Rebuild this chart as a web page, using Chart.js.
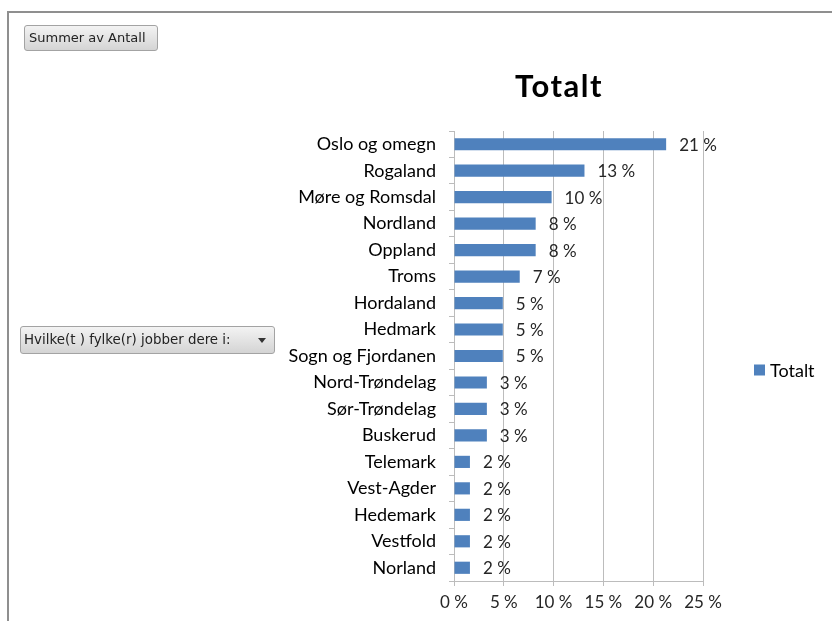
<!DOCTYPE html>
<html>
<head>
<meta charset="utf-8">
<script src="https://cdn.jsdelivr.net/npm/chart.js@4.4.0/dist/chart.umd.min.js"></script>
<style>
  html, body { margin: 0; padding: 0; background: #fff; }
  body { width: 832px; height: 621px; position: relative; overflow: hidden; }
  #frame {
    position: absolute; left: 7px; top: 11px; width: 900px; height: 700px;
    border-top: 2px solid #8f8f8f; border-left: 2px solid #8f8f8f;
    box-sizing: border-box;
  }
  #wrap { position: absolute; left: 0; top: 0; width: 832px; height: 621px; }
  .pivot-btn {
    position: absolute; box-sizing: border-box;
    border: 1px solid #a3a3a3; border-radius: 3px;
    background: linear-gradient(#f3f3f3, #d4d4d4);
    font-family: "DejaVu Sans", sans-serif; color: #222;
    white-space: nowrap;
  }
  #sumBtn { left: 24px; top: 25px; width: 134px; height: 26px; font-size: 13px; line-height: 24px; padding-left: 4px; }
  #rowBtn { left: 20px; top: 326px; width: 255px; height: 28px; font-size: 13.4px; line-height: 26px; padding-left: 3px; }
  #rowBtn .arrow {
    position: absolute; left: 237px; top: 11px; width: 0; height: 0;
    border-left: 4.5px solid transparent; border-right: 4.5px solid transparent;
    border-top: 5px solid #333;
  }
</style>
</head>
<body>
<div id="frame"></div>
<div id="wrap"><canvas id="chart" width="832" height="621"></canvas></div>
<div id="sumBtn" class="pivot-btn">Summer av Antall</div>
<div id="rowBtn" class="pivot-btn">Hvilke(t ) fylke(r) jobber dere i:<span class="arrow"></span></div>
<script>
// Share of respondents per county (percent)
const counties = [
  "Oslo og omegn", "Rogaland", "Møre og Romsdal", "Nordland", "Oppland",
  "Troms", "Hordaland", "Hedmark", "Sogn og Fjordanen", "Nord-Trøndelag",
  "Sør-Trøndelag", "Buskerud", "Telemark", "Vest-Agder", "Hedemark",
  "Vestfold", "Norland"
];
const totalt = [21.3, 13.1, 9.8, 8.2, 8.2, 6.6, 4.9, 4.9, 4.9, 3.3, 3.3, 3.3, 1.6, 1.6, 1.6, 1.6, 1.6];
const xTicks = [0, 5, 10, 15, 20, 25];
const seriesName = "Totalt";
const chartTitle = "Totalt";

const BAR = "#4F81BD";
const GRID = "#bcbcbc";
const FONT = "Lato, 'Open Sans', sans-serif";

// Title drawn centred above the plot
const titlePlugin = {
  id: "excelTitle",
  afterDraw(chart) {
    const ctx = chart.ctx;
    ctx.save();
    ctx.font = "bold 31px " + FONT;
    if ("letterSpacing" in ctx) ctx.letterSpacing = "1.5px";
    ctx.fillStyle = "#000";
    ctx.textAlign = "center";
    ctx.textBaseline = "alphabetic";
    ctx.fillText(chartTitle, 559, 97);
    ctx.restore();
  }
};

// Percent labels to the right of each bar
const valueLabels = {
  id: "valueLabels",
  afterDatasetsDraw(chart) {
    const ctx = chart.ctx;
    ctx.save();
    ctx.font = "17px " + FONT;
    ctx.fillStyle = "#262626";
    ctx.textAlign = "left";
    ctx.textBaseline = "middle";
    chart.getDatasetMeta(0).data.forEach((bar, i) => {
      const v = chart.data.datasets[0].data[i];
      ctx.fillText(Math.round(v) + " %", bar.x + 13, bar.y + 1);
    });
    ctx.restore();
  }
};

// Legend entry on the right side
const sideLegend = {
  id: "sideLegend",
  afterDraw(chart) {
    const ctx = chart.ctx;
    const ds = chart.data.datasets[0];
    const x = chart.chartArea.right + 51;
    const y = 370;
    ctx.save();
    ctx.fillStyle = ds.backgroundColor;
    ctx.fillRect(x, y - 5.5, 11, 11);
    ctx.font = "18px " + FONT;
    ctx.fillStyle = "#000";
    ctx.textAlign = "left";
    ctx.textBaseline = "middle";
    ctx.fillText(ds.label, x + 16, y + 1);
    ctx.restore();
  }
};

new Chart(document.getElementById("chart"), {
  type: "bar",
  data: {
    labels: counties,
    datasets: [{
      label: seriesName,
      data: totalt,
      backgroundColor: BAR,
      borderWidth: 0,
      barPercentage: 0.46,
      categoryPercentage: 1
    }]
  },
  options: {
    indexAxis: "y",
    responsive: false,
    animation: false,
    layout: { padding: { left: 284, right: 129, top: 131, bottom: 0 } },
    plugins: {
      legend: { display: false },
      title: { display: false },
      tooltip: { enabled: false }
    },
    scales: {
      x: {
        min: 0, max: 25,
        afterBuildTicks(scale) { scale.ticks = xTicks.map(v => ({ value: v })); },
        afterFit(scale) { scale.height = 40; },
        ticks: {
          callback: v => v + " %",
          font: { family: FONT, size: 17 },
          color: "#262626",
          padding: 6,
          maxRotation: 0
        },
        grid: { color: GRID, lineWidth: 1, tickLength: 5, drawTicks: true },
        border: { display: true, color: GRID, width: 1 }
      },
      y: {
        offset: true,
        afterFit(scale) { scale.width = 170; },
        ticks: {
          font: { family: FONT, size: 18 },
          color: "#000",
          padding: 13,
          autoSkip: false
        },
        grid: { offset: true, drawOnChartArea: false, color: GRID, tickLength: 5 },
        border: { display: true, color: GRID, width: 1 }
      }
    }
  },
  plugins: [titlePlugin, valueLabels, sideLegend]
});
</script>
</body>
</html>
